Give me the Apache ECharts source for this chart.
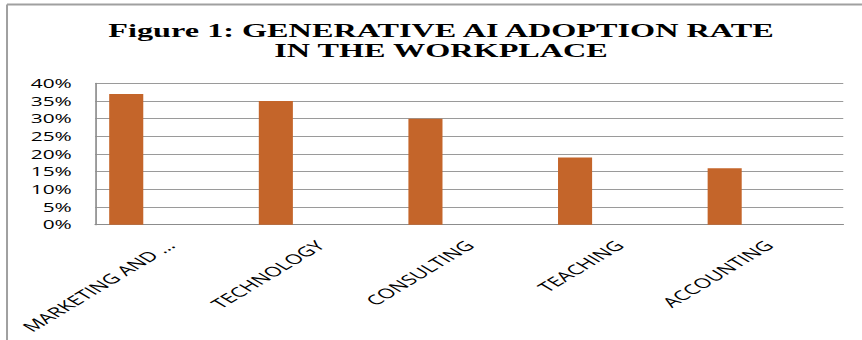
<!DOCTYPE html>
<html>
<head>
<meta charset="utf-8">
<script src="https://cdn.jsdelivr.net/npm/echarts@6/dist/echarts.min.js"></script>
<style>
html, body { margin: 0; padding: 0; background: #ffffff; overflow: hidden; }
#chart { width: 516px; height: 340px; transform: scaleX(1.6705); transform-origin: 0 0; }
</style>
</head>
<body>
<div id="chart"></div>
<script>
// Data
const categories = ['MARKETING AND …', 'TECHNOLOGY', 'CONSULTING', 'TEACHING', 'ACCOUNTING'];
const adoptionRate = [37, 35, 30, 19, 16];
const emptySeries = [null, null, null, null, null];
const yTicks = { min: 0, max: 40, interval: 5 };
const titleLines = ['Figure 1: GENERATIVE AI ADOPTION RATE', 'IN THE WORKPLACE'];

const chart = echarts.init(document.getElementById('chart'), null, { renderer: 'svg' });

const option = {
  animation: false,
  backgroundColor: '#ffffff',
  title: {
    text: titleLines.join('\n'),
    left: 264,
    textAlign: 'center',
    top: 20,
    padding: 0,
    textStyle: {
      fontFamily: '"Liberation Serif", "Times New Roman", serif',
      fontWeight: 'bold',
      fontSize: 19.3,
      lineHeight: 20,
      color: '#000000'
    }
  },
  graphic: [
    { type: 'line', shape: { x1: 4.2, y1: 4.5, x2: 516, y2: 4.5 }, style: { stroke: '#a0a0a0', lineWidth: 2 } },
    { type: 'line', shape: { x1: 4.2, y1: 4.5, x2: 4.2, y2: 340 }, style: { stroke: '#a0a0a0', lineWidth: 1.2 } }
  ],
  grid: { left: 57, right: 11.2, top: 83.3, bottom: 115.3, containLabel: false },
  xAxis: {
    type: 'category',
    data: categories,
    boundaryGap: true,
    axisLine: { show: true, lineStyle: { color: '#8c8c8c', width: 1 } },
    axisTick: { show: false },
    axisLabel: {
      rotate: 45,
      interval: 0,
      margin: 18,
      fontFamily: '"Open Sans", sans-serif',
      fontSize: 13.5,
      color: '#000000'
    },
    splitLine: { show: false }
  },
  yAxis: {
    type: 'value',
    min: yTicks.min,
    max: yTicks.max,
    interval: yTicks.interval,
    axisLine: { show: true, lineStyle: { color: '#8c8c8c', width: 1 } },
    axisTick: { show: false },
    axisLabel: {
      formatter: '{value}%',
      margin: 14,
      fontFamily: '"Open Sans", sans-serif',
      fontSize: 12.5,
      color: '#000000'
    },
    splitLine: { show: true, lineStyle: { color: '#9a9a9a', width: 1 } }
  },
  series: [
    {
      type: 'bar',
      data: adoptionRate,
      barWidth: 20.4,
      barGap: '157%',
      itemStyle: { color: '#c4652a' }
    },
    {
      type: 'bar',
      data: emptySeries,
      barWidth: 20.4,
      itemStyle: { color: '#c4652a' }
    }
  ]
};

chart.setOption(option);
</script>
</body>
</html>
